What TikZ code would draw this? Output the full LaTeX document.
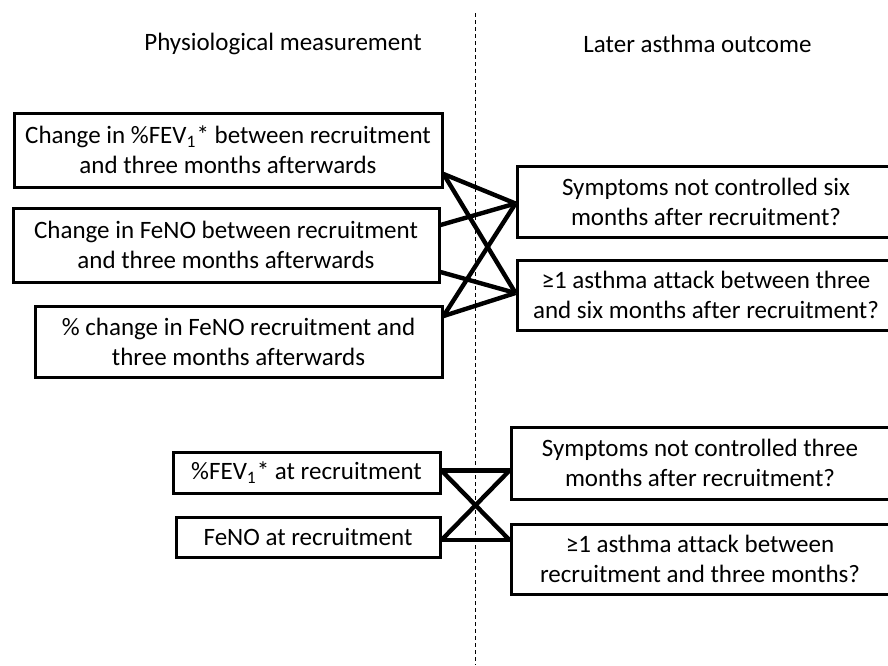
\documentclass[tikz,border=0pt]{standalone}
\usepackage{fontspec}
\setmainfont{Carlito}[Ligatures=NoCommon]
\usepackage{tikz}
\usetikzlibrary{positioning, calc}

\begin{document}
\begin{tikzpicture}[x=0.5pt, y=-0.5pt,
    every node/.style={font=\fontsize{12.5}{15}\selectfont},
    measbox/.style={draw, rectangle, line width=1.5pt, align=center, inner sep=2pt},
    outbox/.style={draw, rectangle, line width=1.5pt, align=center, inner sep=2pt, minimum width=189pt},
    link/.style={line width=2.2pt}]
    \useasboundingbox (0,0) rectangle (888,665);

    % column headings and divider
    \node (physhead) at (283,44) {Physiological measurement};
    \node (outhead) at (697.5,44) {Later asthma outcome};
    \coordinate (divtop) at (475,13);
    \coordinate (divbot) at (475,665);
    \draw [dash pattern=on 2pt off 1.5pt, line width=0.5pt] (divtop) -- (divbot);

    % upper block: changes
    \node [measbox, minimum width=214pt, minimum height=37pt] (chfev) at (228,150) {
        Change in \%FEV\textsubscript{1}* between recruitment\\
        and three months afterwards};
    \node [measbox, minimum width=213pt, minimum height=37pt] (chfeno) at (226,245) {
        Change in FeNO between recruitment\\
        and three months afterwards};
    \node [measbox, minimum width=203.5pt, minimum height=35.5pt] (pcfeno) at (238.5,341.5) {
        \% change in FeNO recruitment and\\
        three months afterwards};

    \node [outbox, minimum height=35.5pt] (ctrlsix) at (706,201.5) {
        Symptoms not controlled six\\
        months after recruitment?};
    \node [outbox, minimum height=35pt] (attsix) at (706,295) {
        ≥1 asthma attack between three\\
        and six months after recruitment?};

    \draw [link] ([yshift=-12pt]chfev.east) -- ([yshift=-1pt]ctrlsix.west);
    \draw [link] ([yshift=-12pt]chfev.east) -- ([yshift=1pt]attsix.west);
    \draw [link] ([yshift=10pt]chfeno.east) -- ([yshift=-1pt]ctrlsix.west);
    \draw [link] ([yshift=-13.5pt]chfeno.east) -- ([yshift=1pt]attsix.west);
    \draw [link] ([yshift=12.75pt]pcfeno.east) -- ([yshift=-1pt]ctrlsix.west);
    \draw [link] ([yshift=12.75pt]pcfeno.east) -- ([yshift=1pt]attsix.west);

    % lower block: baseline
    \node [measbox, minimum width=133.5pt, minimum height=20.5pt] (basefev) at (306.5,472.5) {\%FEV\textsubscript{1}* at recruitment};
    \node [measbox, minimum width=132pt, minimum height=20pt] (basefeno) at (308,537) {FeNO at recruitment};

    \node [outbox, minimum height=36pt] (ctrlthree) at (700,463) {
        Symptoms not controlled three\\
        months after recruitment?};
    \node [outbox, minimum height=35pt] (attthree) at (700,559) {
        ≥1 asthma attack between\\
        recruitment and three months?};

    \draw [link] ([yshift=1pt]basefev.east) -- ([yshift=1pt]ctrlthree.west |- basefev.east);
    \draw [link] ([yshift=1pt]basefev.east) -- ([yshift=-1.5pt]attthree.west |- basefeno.east);
    \draw [link] ([yshift=-1.5pt]basefeno.east) -- ([yshift=1pt]ctrlthree.west |- basefev.east);
    \draw [link] ([yshift=-1.5pt]basefeno.east) -- ([yshift=-1.5pt]attthree.west |- basefeno.east);
\end{tikzpicture}
\end{document}
